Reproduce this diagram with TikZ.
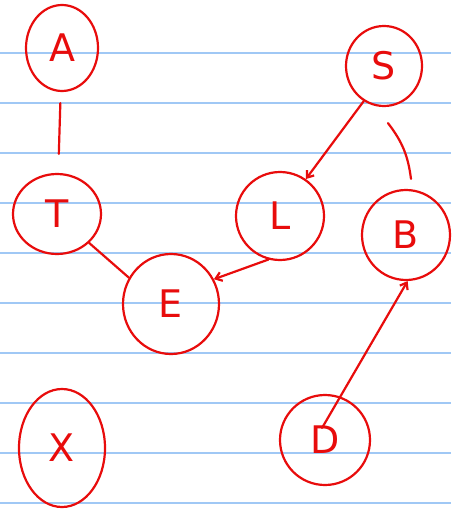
\documentclass[tikz,border=0pt]{standalone}
\usepackage{fontspec}
\setmainfont{DejaVu Sans}
\usetikzlibrary{arrows.meta,shapes.geometric}
\definecolor{ink}{RGB}{232,12,12}
\definecolor{rule}{RGB}{160,200,245}
\tikzset{
  vnode/.style={draw=ink, line width=2.2pt, ellipse, inner sep=0pt, text=ink,
    font=\fontsize{38}{38}\selectfont\mdseries},
  edge/.style={draw=ink, line width=2.2pt, line cap=round},
  arr/.style={edge, -{Straight Barb[length=6pt,width=9pt]}},
  ruleline/.style={draw=rule, line width=1.6pt}
}
\begin{document}
\begin{tikzpicture}[x=1pt,y=-1pt]
\useasboundingbox (0,0) rectangle (451,513);
\fill[white] (0,0) rectangle (451,513);
\foreach \yy in {53,103,153,203,253,303,353,403,453,503}
  \draw[ruleline] (0,\yy) -- (451,\yy);
\node[vnode, minimum width=72pt, minimum height=86pt] (A) at (62,48) {A};
\node[vnode, minimum width=76pt, minimum height=80pt] (S) at (384,66) {S};
\node[vnode, minimum width=88pt, minimum height=80pt] (T) at (57,214) {T};
\node[vnode, minimum width=88pt, minimum height=88pt] (L) at (280,216) {L};
\node[vnode, minimum width=88pt, minimum height=90pt] (B) at (406,235) {B};
\node[vnode, minimum width=96pt, minimum height=100pt] (E) at (171,304) {E};
\node[vnode, minimum width=86pt, minimum height=118pt] (X) at (62,448) {X};
\node[vnode, minimum width=90pt, minimum height=90pt] (D) at (325,440) {D};
\draw[edge, shorten <=11pt, shorten >=19pt] (A) -- (T);
\draw[arr] (S.-120) -- (L.55);
\draw[edge] ([xshift=5pt,yshift=10pt]B.north) to[bend right=15] ([xshift=4pt,yshift=-16pt]S.south);
\draw[arr] (L.-105) -- (E.30);
\draw[edge] (T.-42) -- (E.148);
\draw[arr] ([xshift=-3pt,yshift=12pt]D.center) -- (B.-88);
\end{tikzpicture}
\end{document}
